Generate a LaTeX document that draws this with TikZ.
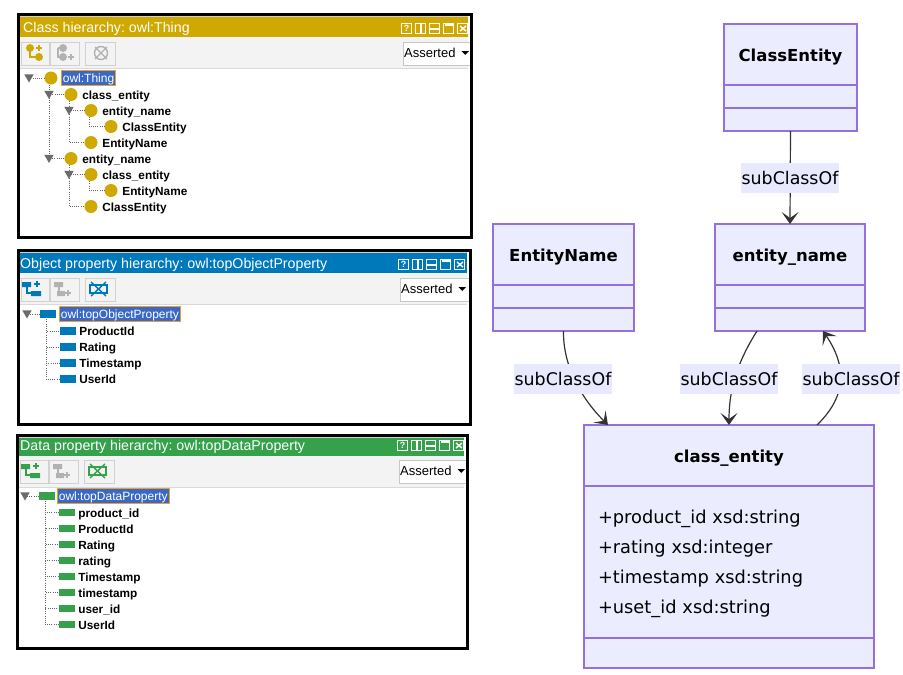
\documentclass[tikz,border=0pt]{standalone}
\usepackage{fontspec}
\setmainfont{Liberation Sans}
\newfontfamily\umlfont{DejaVu Sans}
\usetikzlibrary{shapes.geometric, arrows.meta, positioning}
\definecolor{owlgold}{HTML}{CFA800}
\definecolor{owlblue}{HTML}{0079BA}
\definecolor{owlgreen}{HTML}{36A14B}
\definecolor{barbg}{HTML}{F3F3F3}
\definecolor{selblue}{HTML}{3968C6}
\definecolor{selorange}{HTML}{F0A020}
\definecolor{umlfill}{HTML}{ECECFF}
\definecolor{umlline}{HTML}{9370DB}
\definecolor{umllabel}{HTML}{E8E8FF}
\definecolor{umltext}{HTML}{333333}

\begin{document}
\begin{tikzpicture}[
    x=1pt, y=-1pt,
    % Styles
    panelframe/.style={rectangle, draw=black, line width=3pt, minimum width=#1, anchor=north west, inner sep=0pt},
    toolbtn/.style={draw=black!18, fill=barbg, line width=.8pt},
    combobox/.style={rectangle, draw=black!22, fill=white, line width=.8pt, anchor=north west, inner sep=0pt, minimum width=69pt, minimum height=23pt},
    classicon/.style={circle, fill=owlgold, inner sep=0pt, minimum size=13pt},
    propicon/.style={rectangle, fill=#1, inner sep=0pt, minimum width=16pt, minimum height=7.5pt},
    treelabel/.style={anchor=west, inner sep=0pt, text height=9pt, text depth=.4pt, font=\fontsize{11.8}{14}\selectfont\bfseries},
    rootlabel/.style={rectangle, draw=selorange, fill=selblue, text=white, line width=.8pt, anchor=west, inner xsep=1.5pt, inner ysep=0pt, minimum height=15pt, text height=9pt, text depth=.4pt, font=\fontsize{12}{14}\selectfont},
    treetip/.style={regular polygon, regular polygon sides=3, shape border rotate=180, fill=black!58, inner sep=0pt, minimum size=11pt},
    treeline/.style={draw=black!60, line width=.7pt, dash pattern=on .8pt off 1.4pt},
    umlbox/.style={rectangle, draw=umlline, fill=umlfill, line width=1.1pt, minimum width=#1, inner sep=0pt, outer sep=0pt, text=black, font=\umlfont\fontsize{17.8}{30}\selectfont},
    umlhead/.style={umlbox=#1, minimum height=61pt, text height=16pt, text depth=3pt, font=\umlfont\fontsize{16.5}{19}\selectfont\bfseries},
    umlrow/.style={umlbox=#1, minimum height=23pt},
    sublabel/.style={rectangle, fill=umllabel, text=black, inner sep=0pt, minimum width=98pt, minimum height=30pt, font=\umlfont\fontsize{17.4}{20}\selectfont},
    flow/.style={draw=umltext, line width=1.2pt, -{Stealth[length=12pt, width=17pt, inset=6pt]}}
]
\useasboundingbox (0,0) rectangle (903,675);

% Protege panels
\foreach \pname/\px/\py/\pw/\ph/\pcol/\tbot/\barb/\btn/\ix/\iy/\tx/\ty/\ptitle in {
    classPanel/17/13/453/223/owlgold/24/55/29/384/10/6/15.5/{Class hierarchy: owl:Thing},
    objectPanel/17/249/452/174/owlblue/24/55/29/381/10/3/15.5/{Object property hierarchy: owl:topObjectProperty},
    dataPanel/16/434/450/213/owlgreen/22/53/26/381/6/4/12.5/{Data property hierarchy: owl:topDataProperty}} {
  \begin{scope}[shift={(\px,\py)}]
    \fill[white] (0,0) rectangle (\pw,\ph);
    \fill[black!18] (2,2) rectangle (\pw-2,4);
    \fill[\pcol] (2,4) rectangle (\pw-2,\tbot);
    \fill[barbg] (2,\tbot) rectangle (\pw-2,\barb);
    \draw[black!15, line width=.8pt] (2,\barb) -- (\pw-2,\barb);
    \node[anchor=west, inner sep=0pt, text=white, font=\fontsize{14.2}{16}\selectfont\frenchspacing] (\pname Title) at (\tx,\ty) {\ptitle};
    % toolbar buttons
    \draw[toolbtn] (4,\btn) rectangle (32,\btn+23);
    \draw[toolbtn] (33,\btn) rectangle (62,\btn+23);
    \draw[toolbtn] (68,\btn) rectangle (98,\btn+23);
    \node[combobox] (\pname Combo) at (\ix+2,\btn) {};
    \node[anchor=west, inner sep=0pt, font=\fontsize{13}{15}\selectfont] (\pname Mode) at (\ix+3,\btn+10.5) {Asserted};
    \fill[black] (\ix+60.5,\btn+9) -- (\ix+68,\btn+9) -- (\ix+64.25,\btn+13) -- cycle;
    % window buttons
    \foreach \k in {0,...,4}
      \draw[white, line width=1pt] (\ix+\k*14+.5,\iy+.5) rectangle (\ix+\k*14+10.5,\iy+10.5);
    \node[inner sep=0pt, text=white, font=\fontsize{9}{9}\selectfont\bfseries] (\pname Help) at (\ix+5.5,\iy+5.5) {?};
    \fill[white] (\ix+19,\iy) rectangle (\ix+21,\iy+11);
    \fill[white] (\ix+28,\iy+4.5) rectangle (\ix+39,\iy+6.5);
    \draw[white, line width=2pt] (\ix+44,\iy+2) -- (\ix+52,\iy+2);
    \draw[white, line width=1.4pt] (\ix+59,\iy+3) -- (\ix+65,\iy+8) (\ix+65,\iy+3) -- (\ix+59,\iy+8);
    \node[panelframe=\pw pt, minimum height=\ph pt] (\pname) at (0,0) {};
  \end{scope}
}

% Class toolbar icons
\draw[owlgold, line width=1.2pt] (30,48) |- (39,57);
\fill[owlgold] (30,48) circle (4pt) (39,57) circle (4pt);
\draw[owlgold, line width=1.6pt] (36,48) -- (42,48) (39,45) -- (39,51);
\draw[black!30, line width=1.2pt] (58,48) |- (63,57) (58,48) -- (63,48);
\fill[black!30] (63,48) circle (4pt) (63,57) circle (4pt);
\draw[black!30, line width=1.4pt] (68,57) -- (74,57) (71,54) -- (71,60);
\draw[black!30, line width=1.4pt] (101,53) circle (6.5pt) (95,47) -- (107,59) (107,47) -- (95,59);

% Property toolbar icons
\foreach \pcol/\bx/\by in {owlblue/20/278, owlgreen/19/460} {
  \begin{scope}[shift={(\bx,\by)}]
    \draw[\pcol, line width=1.2pt] (7,7) |- (12,15);
    \fill[\pcol] (2,4) rectangle (11,9) (11,13) rectangle (21,18);
    \draw[\pcol, line width=1.6pt] (14,6) -- (20,6) (17,3) -- (17,9);
    \draw[black!30, line width=1.2pt] (39,7) |- (43,15);
    \fill[black!30] (34,4) rectangle (43,9) (37,13) rectangle (45,18);
    \draw[black!30, line width=1.4pt] (45,15) -- (51,15) (48,12) -- (48,18);
    \draw[\pcol, line width=1.2pt] (70,7) rectangle (87,15);
    \draw[\pcol, line width=1.4pt] (71,4) -- (86,18) (86,4) -- (71,18);
  \end{scope}
}

% Class tree
\foreach \rname/\rx/\ry/\rtext in {
    ce/71/94.5/class\_entity, en/91/110.5/entity\_name, cc/111/126.5/ClassEntity, ee/91/142.5/EntityName,
    fn/71/158.5/entity\_name, fc/91/174.5/class\_entity, fe/111/190.5/EntityName, fk/91/206.5/ClassEntity} {
  \node[classicon] (\rname) at (\rx,\ry) {};
  \node[treelabel, right=4.5pt of \rname, yshift=-.7pt] (\rname Text) {\rtext};
}
\node[classicon] (thing) at (51,78) {};
\node[rootlabel] (thingText) at (61,78) {owl:Thing};
\draw[treeline] (thing.west) -- (29,78);
\draw[treeline] ([xshift=-2pt]thing.south) |- (ce.west);
\draw[treeline] ([xshift=-2pt]thing.south) |- (fn.west);
\draw[treeline] ([xshift=-2pt]ce.south) |- (en.west);
\draw[treeline] ([xshift=-2pt]ce.south) |- (ee.west);
\draw[treeline] ([xshift=-2pt]en.south) |- (cc.west);
\draw[treeline] ([xshift=-2pt]fn.south) |- (fc.west);
\draw[treeline] ([xshift=-2pt]fn.south) |- (fk.west);
\draw[treeline] ([xshift=-2pt]fc.south) |- (fe.west);
\foreach \tname/\tx/\ty in {tipThing/29/77, tipCe/49/93.5, tipEn/69/109.5, tipFn/49/157.5, tipFc/69/173.5}
  \node[treetip] (\tname) at (\tx,\ty) {};

% Object property tree
\node[propicon=owlblue] (topObject) at (48,314) {};
\node[rootlabel] (topObjectText) at (59,314) {owl:topObjectProperty};
\draw[treeline] (topObject.west) -- (27,314);
\node[treetip] (tipObject) at (27,313) {};
\foreach \rname/\ry/\rtext in {opProduct/331/ProductId, opRating/347/Rating, opTime/363/Timestamp, opUser/379/UserId} {
  \node[propicon=owlblue] (\rname) at (68,\ry) {};
  \node[treelabel, right=3pt of \rname] (\rname Text) {\rtext};
  \draw[treeline] (46,317) |- (\rname.west);
}

% Data property tree
\node[propicon=owlgreen] (topData) at (47,496) {};
\node[rootlabel] (topDataText) at (57,496) {owl:topDataProperty};
\draw[treeline] (topData.west) -- (25,496);
\node[treetip] (tipData) at (25,495) {};
\foreach \rname/\ry/\rtext in {dpA/512.5/product\_id, dpB/528.5/ProductId, dpC/544.5/Rating, dpD/560.5/rating,
    dpE/576.5/Timestamp, dpF/592.5/timestamp, dpG/608.5/user\_id, dpH/624.5/UserId} {
  \node[propicon=owlgreen] (\rname) at (67,\ry) {};
  \node[treelabel, right=3pt of \rname, yshift=-.6pt] (\rname Text) {\rtext};
  \draw[treeline] (45,499) |- (\rname.west);
}

% UML classes
\node[umlhead=133pt, anchor=north] (classEntity) at (790.5,24) {ClassEntity};
\node[umlrow=133pt, below=0pt of classEntity] (classEntityA) {};
\node[umlrow=133pt, below=0pt of classEntityA] (classEntityB) {};

\node[umlhead=141pt, anchor=north] (entityName) at (563.5,224) {EntityName};
\node[umlrow=141pt, below=0pt of entityName] (entityNameA) {};
\node[umlrow=141pt, below=0pt of entityNameA] (entityNameB) {};

\node[umlhead=150pt, anchor=north] (entityLow) at (790,224) {entity\_name};
\node[umlrow=150pt, below=0pt of entityLow] (entityLowA) {};
\node[umlrow=150pt, below=0pt of entityLowA] (entityLowB) {};

\node[umlhead=290pt, anchor=north] (classLow) at (729,425) {class\_entity};
\node[umlbox=290pt, minimum height=152pt, below=0pt of classLow, align=left, text width=262pt] (classLowA) {%
    \rule{0pt}{17.5pt}+product\_id xsd:string\\
    +rating xsd:integer\\
    +timestamp xsd:string\\
    +uset\_id xsd:string};
\node[umlbox=290pt, minimum height=30pt, below=0pt of classLowA] (classLowB) {};

% Inheritance arrows
\draw[flow] (classEntityB.south) -- (entityLow.north);
\draw[flow] (entityNameB.south) .. controls (563,365) and (580,397) .. ([xshift=-121pt]classLow.north);
\draw[flow] ([xshift=-33pt]entityLowB.south) .. controls (740,358) and (729,385) .. (classLow.north);
\draw[flow] ([xshift=88pt]classLow.north) .. controls (848,395) and (846,365) .. ([xshift=33pt]entityLowB.south);

% Arrow labels
\node[sublabel] (labelTop) at (790,178) {subClassOf};
\node[sublabel] (labelLeft) at (563,379) {subClassOf};
\node[sublabel] (labelMid) at (729,379) {subClassOf};
\node[sublabel] (labelRight) at (851,379) {subClassOf};

\end{tikzpicture}
\end{document}
